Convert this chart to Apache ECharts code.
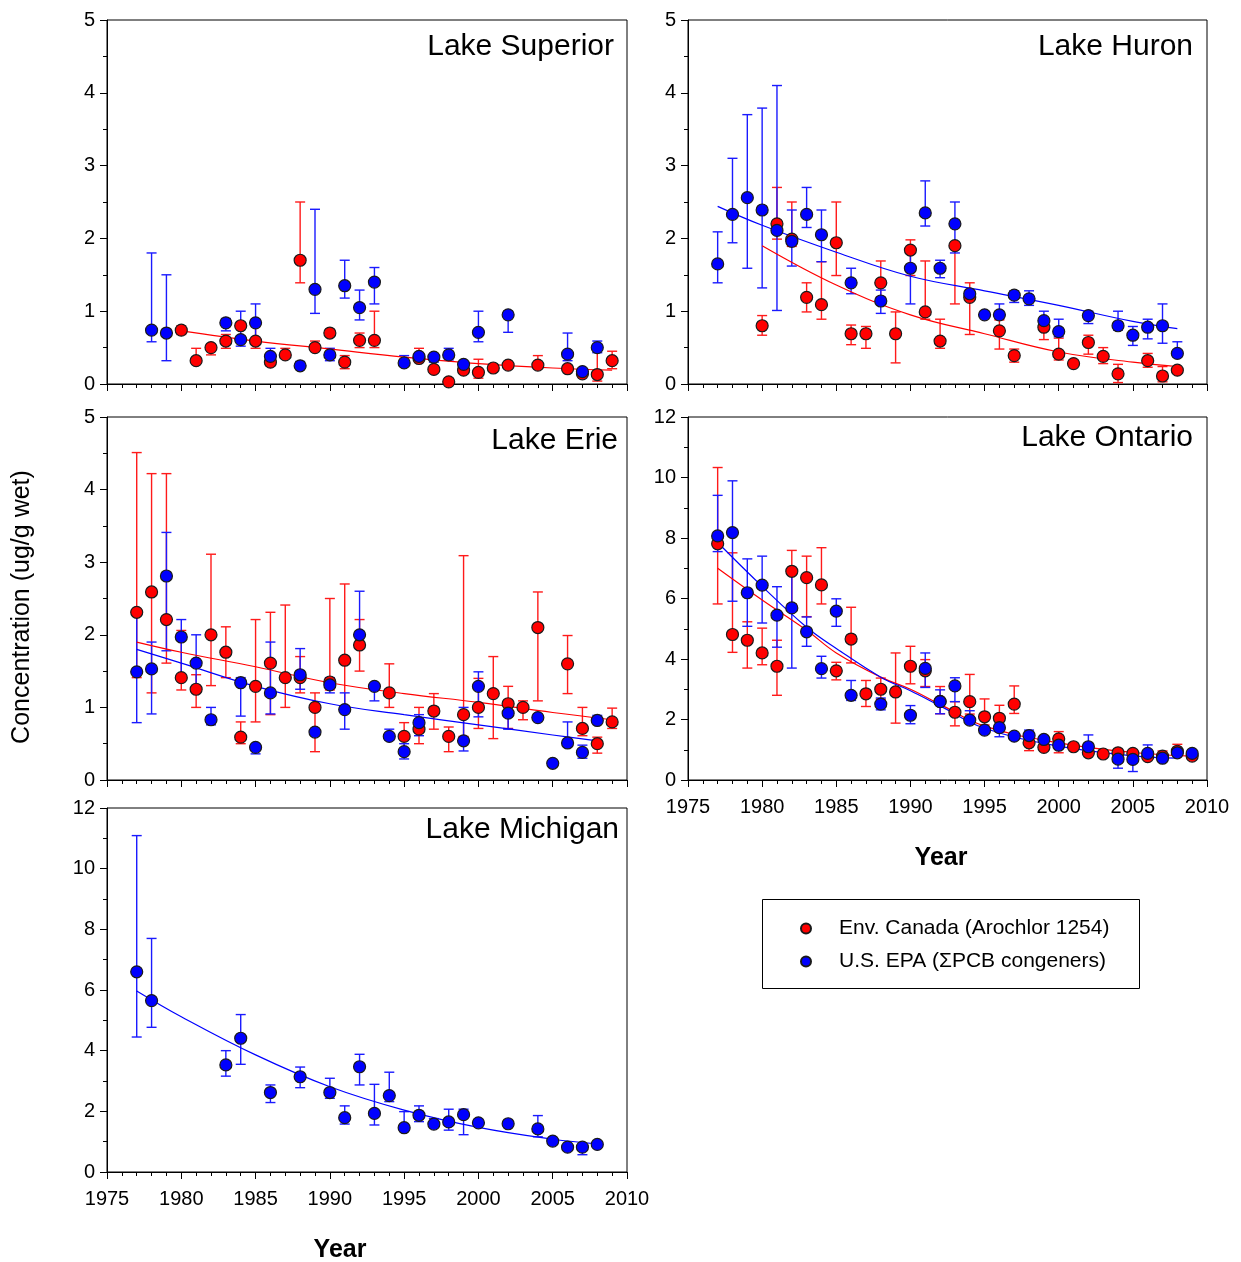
<!DOCTYPE html>
<html>
<head>
<meta charset="utf-8">
<title>PCB concentrations in the Great Lakes</title>
<script src="https://cdn.jsdelivr.net/npm/echarts@6/dist/echarts.min.js"></script>
<style>
  html, body { margin: 0; padding: 0; background: #fff; }
  #chart { width: 1241px; height: 1262px; }
</style>
</head>
<body>
<div id="chart"></div>
<script>
// rows are [year, value, low, high]; low/high null when no error bar is visible
const superiorCanada = [
  [1980, 0.74, 0.68, 0.80], [1981, 0.32, 0.30, 0.49], [1982, 0.50, 0.40, 0.50],
  [1983, 0.59, 0.49, 0.68], [1984, 0.80, null, null], [1985, 0.59, 0.49, 0.80],
  [1986, 0.30, 0.25, 0.30], [1987, 0.40, 0.40, 0.49], [1988, 1.70, 1.39, 2.50],
  [1989, 0.50, 0.50, 0.59], [1990, 0.70, null, null], [1991, 0.30, 0.21, 0.39],
  [1992, 0.60, 0.50, 0.70], [1993, 0.60, 0.50, 1.00], [1996, 0.35, 0.35, 0.49],
  [1997, 0.20, null, null], [1998, 0.03, null, null], [1999, 0.19, null, null],
  [2000, 0.16, 0.08, 0.34], [2001, 0.22, null, null], [2002, 0.26, null, null],
  [2004, 0.26, 0.26, 0.39], [2006, 0.21, null, null], [2007, 0.14, null, null],
  [2008, 0.13, 0.04, 0.50], [2009, 0.32, 0.21, 0.45]
];
const superiorEpa = [
  [1978, 0.74, 0.58, 1.80], [1979, 0.70, 0.32, 1.50], [1983, 0.84, 0.73, 0.90],
  [1984, 0.61, 0.52, 1.00], [1985, 0.84, 0.60, 1.10], [1986, 0.38, 0.26, 0.49],
  [1988, 0.25, 0.22, 0.31], [1989, 1.30, 0.97, 2.40], [1990, 0.40, 0.32, 0.49],
  [1991, 1.35, 1.18, 1.70], [1992, 1.05, 0.88, 1.29], [1993, 1.40, 1.10, 1.60],
  [1995, 0.29, 0.29, 0.39], [1996, 0.38, null, null], [1997, 0.37, 0.30, 0.40],
  [1998, 0.40, 0.33, 0.49], [1999, 0.27, null, null], [2000, 0.71, 0.58, 1.00],
  [2002, 0.95, 0.71, 1.00], [2006, 0.41, 0.32, 0.70], [2007, 0.17, null, null],
  [2008, 0.50, 0.43, 0.59]
];
const superiorCanadaFit = [[1980, 0.73], [1985, 0.59], [1990, 0.48], [1995, 0.37], [2000, 0.28], [2005, 0.22], [2009, 0.19]];

const huronCanada = [
  [1980, 0.80, 0.67, 0.94], [1981, 2.20, 1.99, 2.70], [1982, 1.99, 1.89, 2.50],
  [1983, 1.19, 0.99, 1.39], [1984, 1.09, 0.89, 1.68], [1985, 1.94, 1.49, 2.50],
  [1986, 0.69, 0.54, 0.81], [1987, 0.69, 0.49, 0.79], [1988, 1.39, 1.19, 1.69],
  [1989, 0.69, 0.29, 0.99], [1990, 1.84, 1.49, 1.98], [1991, 0.99, 0.89, 1.69],
  [1992, 0.59, 0.49, 0.89], [1993, 1.90, 1.10, 1.90], [1994, 1.19, 0.68, 1.39],
  [1996, 0.73, 0.48, 0.88], [1997, 0.39, 0.30, 0.48], [1999, 0.78, 0.61, 0.83],
  [2000, 0.41, 0.33, 0.63], [2001, 0.28, null, null], [2002, 0.57, 0.41, 0.67],
  [2003, 0.38, 0.28, 0.50], [2004, 0.14, 0.02, 0.27], [2006, 0.32, 0.23, 0.42],
  [2007, 0.11, 0.03, 0.24], [2008, 0.19, null, null]
];
const huronEpa = [
  [1977, 1.65, 1.39, 2.09], [1978, 2.33, 1.94, 3.10], [1979, 2.56, 1.59, 3.70],
  [1980, 2.39, 1.32, 3.79], [1981, 2.11, 1.01, 4.10], [1982, 1.96, 1.62, 2.39],
  [1983, 2.33, 2.15, 2.70], [1984, 2.05, 1.68, 2.39], [1986, 1.39, 1.24, 1.59],
  [1988, 1.14, 0.97, 1.29], [1990, 1.59, 1.10, 1.80], [1991, 2.35, 2.17, 2.79],
  [1992, 1.59, 1.46, 1.70], [1993, 2.20, 1.80, 2.50], [1994, 1.24, null, null],
  [1995, 0.95, null, null], [1996, 0.95, 0.90, 1.10], [1997, 1.22, 1.12, 1.28],
  [1998, 1.17, 1.08, 1.28], [1999, 0.87, 0.80, 1.00], [2000, 0.72, 0.65, 0.89],
  [2002, 0.94, 0.83, 1.00], [2004, 0.80, 0.74, 1.00], [2005, 0.67, 0.53, 0.79],
  [2006, 0.78, 0.62, 0.89], [2007, 0.80, 0.56, 1.10], [2008, 0.42, 0.37, 0.58]
];
const huronCanadaFit = [[1980, 1.90], [1985, 1.36], [1990, 0.95], [1995, 0.69], [2000, 0.44], [2005, 0.30], [2008, 0.24]];
const huronEpaFit = [[1977, 2.44], [1980, 2.18], [1985, 1.81], [1990, 1.48], [1995, 1.28], [2000, 1.08], [2005, 0.86], [2008, 0.76]];

const erieCanada = [
  [1977, 2.31, 1.41, 4.51], [1978, 2.59, 1.20, 4.22], [1979, 2.21, 1.61, 4.22],
  [1980, 1.41, 1.24, 2.06], [1981, 1.25, 1.00, 1.45], [1982, 2.00, 1.30, 3.11],
  [1983, 1.76, 1.41, 2.11], [1984, 0.59, 0.50, 0.80], [1985, 1.29, 0.80, 2.21],
  [1986, 1.61, 0.90, 2.31], [1987, 1.41, 1.00, 2.41], [1988, 1.41, 1.20, 1.70],
  [1989, 1.00, 0.39, 1.20], [1990, 1.35, 1.24, 2.50], [1991, 1.65, 0.96, 2.70],
  [1992, 1.86, 1.50, 2.21], [1994, 1.20, 1.00, 1.60], [1995, 0.60, 0.39, 0.79],
  [1996, 0.70, 0.50, 1.00], [1997, 0.95, 0.70, 1.19], [1998, 0.60, 0.39, 0.73],
  [1999, 0.90, 0.60, 3.09], [2000, 1.00, 0.71, 1.40], [2001, 1.19, 0.57, 1.70],
  [2002, 1.05, 0.71, 1.29], [2003, 1.00, 0.83, 1.09], [2004, 2.10, 1.09, 2.59],
  [2006, 1.60, 1.19, 1.99], [2007, 0.71, 0.61, 1.00], [2008, 0.50, 0.37, 0.59],
  [2009, 0.80, 0.71, 0.99]
];
const erieEpa = [
  [1977, 1.49, 0.79, 2.31], [1978, 1.53, 0.91, 1.90], [1979, 2.81, 1.78, 3.41],
  [1980, 1.97, 1.41, 2.21], [1981, 1.61, 1.21, 2.00], [1982, 0.83, 0.76, 1.00],
  [1984, 1.34, 0.88, 1.41], [1985, 0.45, 0.36, 0.49], [1986, 1.20, 0.91, 1.90],
  [1988, 1.45, 1.25, 1.81], [1989, 0.66, null, null], [1990, 1.31, 1.20, 1.41],
  [1991, 0.97, 0.70, 1.20], [1992, 2.00, 1.82, 2.60], [1993, 1.29, 1.09, 1.30],
  [1994, 0.60, 0.55, 0.70], [1995, 0.39, 0.29, 0.50], [1996, 0.79, 0.61, 0.90],
  [1999, 0.54, 0.40, 1.00], [2000, 1.29, 0.87, 1.49], [2002, 0.92, 0.70, 0.92],
  [2004, 0.86, null, null], [2005, 0.23, null, null], [2006, 0.51, 0.50, 0.80],
  [2007, 0.38, 0.30, 0.48], [2008, 0.82, 0.80, 0.89]
];
const erieCanadaFit = [[1977, 1.90], [1980, 1.76], [1985, 1.56], [1990, 1.34], [1995, 1.19], [2000, 1.07], [2005, 0.93], [2009, 0.83]];
const erieEpaFit = [[1977, 1.80], [1980, 1.61], [1985, 1.29], [1990, 1.05], [1995, 0.90], [2000, 0.76], [2005, 0.62], [2008, 0.54]];

const ontarioCanada = [
  [1977, 7.81, 5.82, 10.33], [1978, 4.81, 4.22, 7.51], [1979, 4.62, 3.70, 5.23],
  [1980, 4.20, 3.81, 5.02], [1981, 3.76, 2.80, 4.62], [1982, 6.90, 5.82, 7.59],
  [1983, 6.69, 5.40, 7.40], [1984, 6.45, 5.82, 7.68], [1985, 3.61, 3.31, 3.89],
  [1986, 4.66, 3.87, 5.71], [1987, 2.85, 2.43, 3.29], [1988, 3.00, 2.67, 3.37],
  [1989, 2.91, 1.88, 4.20], [1990, 3.76, 3.18, 4.42], [1991, 3.61, 3.09, 3.98],
  [1992, 2.60, 2.19, 3.09], [1993, 2.24, 1.79, 2.59], [1994, 2.59, 2.18, 3.49],
  [1995, 2.09, 1.82, 2.68], [1996, 2.04, 1.60, 2.47], [1997, 2.51, 2.20, 3.11],
  [1998, 1.23, 0.97, 1.43], [1999, 1.08, null, null], [2000, 1.36, 0.90, 1.60],
  [2001, 1.10, null, null], [2002, 0.90, null, null], [2003, 0.86, null, null],
  [2004, 0.90, null, null], [2005, 0.88, null, null], [2006, 0.77, null, null],
  [2007, 0.79, 0.79, 0.96], [2008, 0.95, 0.95, 1.18], [2009, 0.79, null, null]
];
const ontarioEpa = [
  [1977, 8.07, 7.55, 9.41], [1978, 8.18, 5.91, 9.89], [1979, 6.19, 5.08, 7.31],
  [1980, 6.44, 5.19, 7.40], [1981, 5.45, 4.39, 6.39], [1982, 5.69, 3.70, 6.85],
  [1983, 4.90, 4.42, 5.39], [1984, 3.68, 3.37, 4.09], [1985, 5.58, 5.08, 5.99],
  [1986, 2.80, 2.63, 3.29], [1988, 2.51, 2.32, 2.71], [1990, 2.14, 1.86, 2.46],
  [1991, 3.69, 3.06, 4.20], [1992, 2.59, 2.19, 2.98], [1993, 3.11, 2.59, 3.38],
  [1994, 1.98, 1.98, 2.29], [1995, 1.65, null, null], [1996, 1.73, 1.43, 1.93],
  [1997, 1.45, null, null], [1998, 1.47, 1.47, 1.65], [1999, 1.34, null, null],
  [2000, 1.15, null, null], [2002, 1.10, 1.10, 1.49], [2004, 0.69, 0.39, 0.69],
  [2005, 0.68, 0.28, 0.68], [2006, 0.88, 0.88, 1.16], [2007, 0.72, null, null],
  [2008, 0.90, null, null], [2009, 0.88, null, null]
];
const ontarioCanadaFit = [[1977, 7.00], [1980, 5.95], [1983, 4.95], [1985, 4.20], [1988, 3.40], [1990, 3.00], [1992, 2.50], [1995, 1.78], [2000, 1.23], [2005, 0.91], [2009, 0.79]];
const ontarioEpaFit = [[1977, 7.85], [1980, 6.40], [1983, 5.05], [1985, 4.35], [1988, 3.40], [1990, 2.95], [1992, 2.45], [1995, 1.71], [2000, 1.12], [2005, 0.80], [2008, 0.72]];

const michiganEpa = [
  [1977, 6.60, 4.45, 11.09], [1978, 5.65, 4.77, 7.70], [1983, 3.53, 3.16, 4.00],
  [1984, 4.41, 3.55, 5.19], [1986, 2.62, 2.29, 2.87], [1988, 3.14, 2.78, 3.46],
  [1990, 2.62, 2.43, 3.09], [1991, 1.79, 1.58, 2.18], [1992, 3.47, 2.87, 3.88],
  [1993, 1.93, 1.55, 2.89], [1994, 2.52, 2.32, 3.29], [1995, 1.46, 1.46, 1.99],
  [1996, 1.87, 1.66, 2.18], [1997, 1.58, 1.58, 1.76], [1998, 1.65, 1.38, 2.07],
  [1999, 1.89, 1.23, 2.07], [2000, 1.62, null, null], [2002, 1.59, null, null],
  [2004, 1.42, 1.16, 1.86], [2005, 1.02, null, null], [2006, 0.82, null, null],
  [2007, 0.82, 0.57, 0.82], [2008, 0.91, null, null]
];
const michiganEpaFit = [[1977, 5.97], [1980, 5.12], [1985, 3.86], [1990, 2.81], [1995, 2.04], [2000, 1.47], [2005, 1.08], [2008, 0.93]];

const lakeNames = ["Lake Superior", "Lake Huron", "Lake Erie", "Lake Ontario", "Lake Michigan"];
const yMaxes = [5, 5, 5, 12, 12];
const yIntervals = [1, 1, 1, 2, 2];
const canadaName = "Env. Canada (Arochlor 1254)";
const epaName = "U.S. EPA (\u03A3PCB congeners)";

const FONT = "Liberation Sans, Arial, sans-serif";
const RED = "#ff0000";
const BLUE = "#0000ff";

function drawChart() {
  const chart = echarts.init(document.getElementById("chart"));

  const panels = [
    { canada: superiorCanada, epa: superiorEpa, canadaFit: superiorCanadaFit, epaFit: null },
    { canada: huronCanada, epa: huronEpa, canadaFit: huronCanadaFit, epaFit: huronEpaFit },
    { canada: erieCanada, epa: erieEpa, canadaFit: erieCanadaFit, epaFit: erieEpaFit },
    { canada: ontarioCanada, epa: ontarioEpa, canadaFit: ontarioCanadaFit, epaFit: ontarioEpaFit },
    { canada: null, epa: michiganEpa, canadaFit: null, epaFit: michiganEpaFit }
  ];

  const grids = [
    { left: 107, top: 20, width: 520, height: 364 },
    { left: 688, top: 20, width: 519, height: 364 },
    { left: 107, top: 417, width: 520, height: 363 },
    { left: 688, top: 417, width: 519, height: 363 },
    { left: 107, top: 808, width: 520, height: 364 }
  ].map(g => Object.assign(g, { show: true, borderColor: "#000", borderWidth: 1 }));

  // title anchor: right edge and vertical centre
  const titleSpots = [[614, 48], [1193, 48], [618, 442], [1193, 439], [619, 831]];

  const xAxes = grids.map((g, i) => ({
    type: "value", gridIndex: i, min: 1975, max: 2010, interval: 5,
    axisLine: { lineStyle: { color: "#000", width: 1 } },
    axisTick: { show: true, inside: false, length: 7, lineStyle: { color: "#000" } },
    minorTick: { show: true, splitNumber: 5, length: 4, lineStyle: { color: "#000" } },
    splitLine: { show: false },
    axisLabel: {
      show: i >= 3, fontSize: 20, color: "#000", fontFamily: FONT, margin: 17,
      formatter: v => String(v)
    }
  }));

  const yAxes = grids.map((g, i) => ({
    type: "value", gridIndex: i, min: 0, max: yMaxes[i], interval: yIntervals[i],
    axisLine: { show: true, lineStyle: { color: "#000", width: 1 } },
    axisTick: { show: true, inside: false, length: 7, lineStyle: { color: "#000" } },
    minorTick: { show: true, splitNumber: 2, length: 4, lineStyle: { color: "#000" } },
    splitLine: { show: false },
    axisLabel: { fontSize: 20, color: "#000", fontFamily: FONT, margin: 12 }
  }));

  function errorBarRenderer(color) {
    return function (params, api) {
      const x = api.value(0);
      const lo = api.coord([x, api.value(1)]);
      const hi = api.coord([x, api.value(2)]);
      const w = 5;
      const style = { stroke: color, lineWidth: 1.4 };
      return {
        type: "group",
        children: [
          { type: "line", shape: { x1: lo[0], y1: lo[1], x2: hi[0], y2: hi[1] }, style },
          { type: "line", shape: { x1: lo[0] - w, y1: lo[1], x2: lo[0] + w, y2: lo[1] }, style },
          { type: "line", shape: { x1: hi[0] - w, y1: hi[1], x2: hi[0] + w, y2: hi[1] }, style }
        ]
      };
    };
  }

  const series = [];
  panels.forEach((p, i) => {
    const sources = [
      { rows: p.canada, fit: p.canadaFit, name: canadaName, color: RED, bar: "#ff1a1a" },
      { rows: p.epa, fit: p.epaFit, name: epaName, color: BLUE, bar: "#1a1aff" }
    ];
    sources.forEach(s => {
      if (!s.rows) return;
      series.push({
        type: "custom", name: s.name + " error", xAxisIndex: i, yAxisIndex: i, z: 2,
        renderItem: errorBarRenderer(s.bar), silent: true,
        data: s.rows.filter(r => r[2] !== null).map(r => [r[0], r[2], r[3]])
      });
    });
    sources.forEach(s => {
      if (!s.fit) return;
      series.push({
        type: "line", name: s.name + " fit", xAxisIndex: i, yAxisIndex: i, z: 3,
        smooth: 0.4, symbol: "none", silent: true,
        lineStyle: { color: s.color, width: 1.2 },
        data: s.fit
      });
    });
    sources.forEach(s => {
      if (!s.rows) return;
      series.push({
        type: "scatter", name: s.name, xAxisIndex: i, yAxisIndex: i, z: 4,
        symbol: "circle", symbolSize: 12,
        itemStyle: { color: s.color, borderColor: "#1a1a1a", borderWidth: 1.2, opacity: 1 },
        data: s.rows.map(r => [r[0], r[1]])
      });
    });
  });

  const titles = lakeNames.map((name, i) => ({
    text: name, right: 1241 - titleSpots[i][0], top: titleSpots[i][1] - 16, padding: 0,
    textStyle: { fontSize: 30, fontWeight: "normal", color: "#000", fontFamily: FONT }
  }));

  const legendBase = {
    orient: "vertical", itemWidth: 10, itemHeight: 10, selectedMode: false,
    textStyle: { fontSize: 21, color: "#000", fontFamily: FONT, padding: [0, 0, 0, 23] }
  };

  const option = {
    animation: false,
    backgroundColor: "#fff",
    title: titles,
    grid: grids,
    xAxis: xAxes,
    yAxis: yAxes,
    legend: [
      Object.assign({}, legendBase, { data: [canadaName], left: 795, top: 913 }),
      Object.assign({}, legendBase, { data: [epaName], left: 795, top: 946 })
    ],
    graphic: [
      {
        type: "rect", left: 760, top: 897, silent: true,
        shape: { width: 377, height: 89 },
        style: { fill: "none", stroke: "#000", lineWidth: 1 }
      },
      {
        type: "text", x: 22, y: 607, rotation: Math.PI / 2, silent: true,
        style: { text: "Concentration (ug/g wet)", fontSize: 25, fontFamily: FONT, fill: "#000", align: "center", verticalAlign: "middle" }
      },
      {
        type: "text", x: 941, y: 858, silent: true,
        style: { text: "Year", fontSize: 25, fontWeight: "bold", fontFamily: FONT, fill: "#000", align: "center", verticalAlign: "middle" }
      },
      {
        type: "text", x: 340, y: 1250, silent: true,
        style: { text: "Year", fontSize: 25, fontWeight: "bold", fontFamily: FONT, fill: "#000", align: "center", verticalAlign: "middle" }
      }
    ],
    series
  };

  chart.setOption(option);
  window.addEventListener("resize", () => chart.resize());
}

document.addEventListener("DOMContentLoaded", drawChart);
</script>
</body>
</html>
